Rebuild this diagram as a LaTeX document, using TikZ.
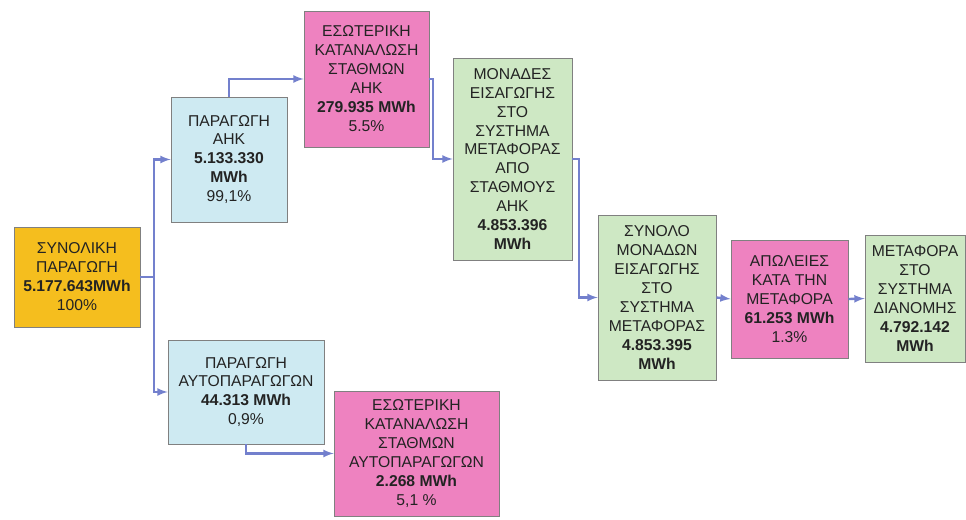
\documentclass[tikz,border=0pt]{standalone}
\usepackage{fontspec}
\setmainfont{Liberation Sans}
\usepackage{xcolor}
\usetikzlibrary{arrows}
\tikzset{
	block/.style={
			draw={rgb,255:red,128;green,128;blue,128}, line width=0.6pt,
			align=center, inner sep=1pt,
			text={rgb,255:red,35;green,35;blue,35},
			font=\fontsize{13.4}{16.2}\selectfont
		},
	total/.style={block, fill={rgb,255:red,245;green,190;blue,30}},
	prod/.style={block, fill={rgb,255:red,206;green,234;blue,242}},
	own/.style={block, fill={rgb,255:red,238;green,130;blue,192}},
	net/.style={block, fill={rgb,255:red,206;green,232;blue,196}},
	flow/.style={-latex, line width=2pt, draw={rgb,255:red,115;green,128;blue,205}}
}

\begin{document}
\begin{tikzpicture}
        \useasboundingbox (0, 0) rectangle (28.98, 15.6);
        % boxes
        \node [total, minimum width=3.78cm, minimum height=3.0cm] (tot) at (2.31, 7.29) {ΣΥΝΟΛΙΚΗ\\ΠΑΡΑΓΩΓΗ\\\bfseries 5.177.643MWh\\100\%};
        \node [prod, minimum width=3.48cm, minimum height=3.75cm] (ahk) at (6.87, 10.815) {ΠΑΡΑΓΩΓΗ\\ΑΗΚ\\\bfseries 5.133.330\\\bfseries MWh\\99,1\%};
        \node [own, minimum width=3.75cm, minimum height=4.08cm] (ownahk) at (10.995, 13.23) {ΕΣΩΤΕΡΙΚΗ\\ΚΑΤΑΝΑΛΩΣΗ\\ΣΤΑΘΜΩΝ\\ΑΗΚ\\\bfseries 279.935 MWh\\5.5\%};
        \node [net, minimum width=3.57cm, minimum height=6.06cm] (imp) at (15.375, 10.83) {ΜΟΝΑΔΕΣ\\ΕΙΣΑΓΩΓΗΣ\\ΣΤΟ\\ΣΥΣΤΗΜΑ\\ΜΕΤΑΦΟΡΑΣ\\ΑΠΟ\\ΣΤΑΘΜΟΥΣ\\ΑΗΚ\\\bfseries 4.853.396\\\bfseries MWh};
        \node [net, minimum width=3.54cm, minimum height=4.95cm] (sum) at (19.71, 6.675) {ΣΥΝΟΛΟ\\ΜΟΝΑΔΩΝ\\ΕΙΣΑΓΩΓΗΣ\\ΣΤΟ\\ΣΥΣΤΗΜΑ\\ΜΕΤΑΦΟΡΑΣ\\\bfseries 4.853.395\\\bfseries MWh};
        \node [own, minimum width=3.51cm, minimum height=3.54cm] (loss) at (23.685, 6.63) {ΑΠΩΛΕΙΕΣ\\ΚΑΤΑ ΤΗΝ\\ΜΕΤΑΦΟΡΑ\\\bfseries 61.253 MWh\\1.3\%};
        \node [net, minimum width=3.0cm, minimum height=3.81cm] (dist) at (27.45, 6.645) {ΜΕΤΑΦΟΡΑ\\ΣΤΟ\\ΣΥΣΤΗΜΑ\\ΔΙΑΝΟΜΗΣ\\\bfseries 4.792.142\\\bfseries MWh};
        \node [prod, minimum width=4.68cm, minimum height=3.12cm] (self) at (7.38, 3.84) {ΠΑΡΑΓΩΓΗ\\ΑΥΤΟΠΑΡΑΓΩΓΩΝ\\\bfseries 44.313 MWh\\0,9\%};
        \node [own, minimum width=4.95cm, minimum height=3.75cm] (ownself) at (12.495, 1.995) {ΕΣΩΤΕΡΙΚΗ\\ΚΑΤΑΝΑΛΩΣΗ\\ΣΤΑΘΜΩΝ\\ΑΥΤΟΠΑΡΑΓΩΓΩΝ\\\bfseries 2.268 MWh\\5,1 \%};
        % connectors
        \coordinate (split) at (4.62, 7.29);
        \coordinate (up) at (12.99, 13.23);
        \coordinate (down) at (17.37, 10.83);
        \draw [flow] (tot.east) -- (split) |- (ahk.west);
        \draw [flow] (split) |- (self.west);
        \draw [flow] (ahk.north) |- (ownahk.west);
        \draw [flow] (ownahk.east) -- (up) |- (imp.west);
        \draw [flow] (imp.east) -- (down) |- (sum.west);
        \draw [flow] (sum.east) -- (loss.west);
        \draw [flow] (loss.east) -- (dist.west);
        \draw [flow] (self.south) |- (ownself.west);
    \end{tikzpicture}
\end{document}
